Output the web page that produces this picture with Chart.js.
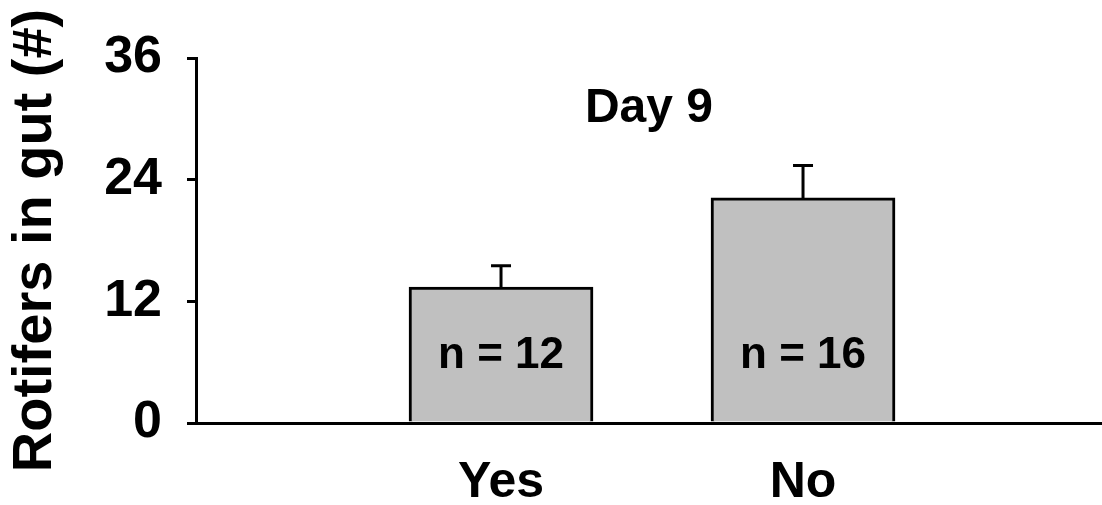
<!DOCTYPE html>
<html>
<head>
<meta charset="utf-8">
<script src="https://cdn.jsdelivr.net/npm/chart.js@4/dist/chart.umd.min.js"></script>
<style>
  html, body { margin: 0; padding: 0; background: #fff; }
  #wrap { width: 1102px; height: 505px; }
</style>
</head>
<body>
<div id="wrap"><canvas id="c" width="1102" height="505"></canvas></div>
<script>
// Gut contents on day 9, mean ± SE
const categories = ['Yes', 'No'];
const rotifers = [13.4, 22.2];
const rotiferErr = [2.1, 3.2];
const sampleSizes = [12, 16];
const yTicks = [0, 12, 24, 36];
const panelTitle = 'Day 9';
const yTitle = 'Rotifers in gut (#)';

const FONT = "'Liberation Sans', Arial, Helvetica, sans-serif";
Chart.defaults.font.family = FONT;
Chart.defaults.color = '#000';

// Error whiskers, sample-size labels, panel title and category names
const annotate = {
  id: 'annotate',
  afterDatasetsDraw(chart) {
    const { ctx, chartArea, scales: { x, y } } = chart;
    ctx.save();
    ctx.strokeStyle = '#000';
    ctx.lineWidth = 3;
    ctx.lineCap = 'butt';
    rotifers.forEach((v, i) => {
      const px = x.getPixelForValue(i + 1);
      const yTop = y.getPixelForValue(v);
      const yErr = y.getPixelForValue(v + rotiferErr[i]);
      ctx.beginPath();
      ctx.moveTo(px, yTop);
      ctx.lineTo(px, yErr);
      ctx.moveTo(px - 10, yErr);
      ctx.lineTo(px + 10, yErr);
      ctx.stroke();
    });

    ctx.fillStyle = '#000';
    ctx.textAlign = 'center';
    ctx.textBaseline = 'alphabetic';

    ctx.font = `bold 44px ${FONT}`;
    sampleSizes.forEach((n, i) => {
      ctx.fillText(`n = ${n}`, x.getPixelForValue(i + 1), chartArea.bottom - 55);
    });

    ctx.font = `bold 48px ${FONT}`;
    ctx.fillText(panelTitle, (chartArea.left + chartArea.right) / 2, chartArea.top + 64);

    ctx.font = `bold 50px ${FONT}`;
    categories.forEach((c, i) => {
      ctx.fillText(c, x.getPixelForValue(i + 1), chartArea.bottom + 74);
    });
    ctx.restore();
  }
};

new Chart(document.getElementById('c'), {
  type: 'bar',
  data: {
    datasets: [{
      data: categories.map((c, i) => ({ x: i + 1, y: rotifers[i] })),
      backgroundColor: '#c0c0c0',
      borderColor: '#000',
      borderWidth: 3,
      barThickness: 184
    }]
  },
  options: {
    responsive: false,
    animation: false,
    devicePixelRatio: 1,
    layout: { padding: { top: 58, right: 0, bottom: 0, left: 0 } },
    plugins: {
      legend: { display: false },
      tooltip: { enabled: false }
    },
    scales: {
      x: {
        type: 'linear',
        offset: false,
        min: -0.01,
        max: 2.99,
        grid: { display: false },
        border: { display: true, color: '#000', width: 3 },
        ticks: { display: false },
        afterFit(s) { s.height = 82; }
      },
      y: {
        min: 0,
        max: 36,
        afterBuildTicks(s) { s.ticks = yTicks.map(v => ({ value: v })); },
        ticks: {
          font: { size: 52, weight: 'bold' },
          color: '#000',
          padding: 25
        },
        grid: {
          drawOnChartArea: false,
          drawTicks: true,
          tickLength: 9,
          lineWidth: 3,
          color: '#000'
        },
        border: { display: true, color: '#000', width: 3 },
        title: {
          display: true,
          text: yTitle,
          color: '#000',
          font: { size: 56, weight: 'bold' },
          padding: { top: 2, bottom: 0 }
        },
        afterFit(s) { s.width = 196; }
      }
    }
  },
  plugins: [annotate]
});
</script>
</body>
</html>
